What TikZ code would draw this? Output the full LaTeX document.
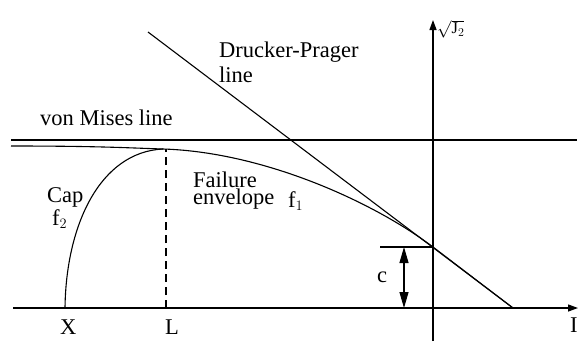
\documentclass[tikz,border=0pt]{standalone}
\usepackage{fontspec}
\setmainfont{Liberation Serif}
\usetikzlibrary{arrows.meta}
\begin{document}
\begin{tikzpicture}[x=1pt,y=-1pt,
  lbl/.style={inner sep=0pt, anchor=base west, font=\fontsize{22.5}{25}\selectfont},
  ln/.style={line width=1.1pt},
  axisline/.style={line width=1.3pt, -{Triangle[length=10pt,width=7pt]}},
  dimarrow/.style={line width=1.1pt, {Triangle[length=16pt,width=9pt]}-{Triangle[length=16pt,width=9pt]}}]
\useasboundingbox (0,0) rectangle (578,341);
% coordinates
\coordinate (O) at (433,308);
\coordinate (Ileft) at (13,308);
\coordinate (Iright) at (578,308);
\coordinate (Jbot) at (433,341);
\coordinate (Jtop) at (433,20);
\coordinate (vmL) at (11,140);
\coordinate (vmR) at (577,140);
\coordinate (dpA) at (148,32);
\coordinate (dpB) at (513,308);
\coordinate (env0) at (11,146);
\coordinate (top) at (163,149);
\coordinate (tan) at (433,247);
\coordinate (X) at (65,308);
\coordinate (Lb) at (166,308);
\coordinate (Lt) at (166,149);
\coordinate (cL) at (380,247);
\coordinate (ca) at (404,247);
\coordinate (cb) at (404,308);
% axes
\draw[axisline] (Ileft) -- (Iright);
\draw[axisline] (Jbot) -- (Jtop);
% von Mises and Drucker-Prager lines
\draw[ln] (vmL) -- (vmR);
\draw[ln] (dpA) -- (dpB);
% failure envelope
\draw[ln] (env0) .. controls (100,146) and (130,148) .. (top)
  .. controls (263,152) and (373,201.6) .. (tan) -- (dpB);
% cap
\draw[ln] (X) .. controls (66,225) and (100,152) .. (top);
% dashed line at L
\draw[ln, dash pattern=on 8pt off 5pt] (Lb) -- (Lt);
% cohesion
\draw[ln] (cL) -- (tan);
\draw[dimarrow] (ca) -- (cb);
% labels
\node[lbl] (vm) at (40,125) {von Mises line};
\node[lbl] (dp1) at (219,57) {Drucker-Prager};
\node[lbl] (dp2) at (219,82) {line};
\node[lbl] (cap) at (47,202) {Cap};
\node[lbl] (f2) at (52,225) {$\mathrm{f}_2$};
\node[lbl] (fail1) at (193,187) {Failure};
\node[lbl] (fail2) at (193,204) {envelope};
\node[lbl] (f1) at (288,207) {$\mathrm{f}_1$};
\node[lbl] (Xl) at (60,334) {X};
\node[lbl] (Ll) at (165,334) {L};
\node[lbl] (Il) at (570,332) {I};
\node[lbl] (cl) at (377,282) {c};
\node[inner sep=0pt, anchor=south west, font=\fontsize{16.5}{19}\selectfont] (J2) at (437,38) {$\sqrt{\mathrm{J}_2}$};
\end{tikzpicture}
\end{document}
